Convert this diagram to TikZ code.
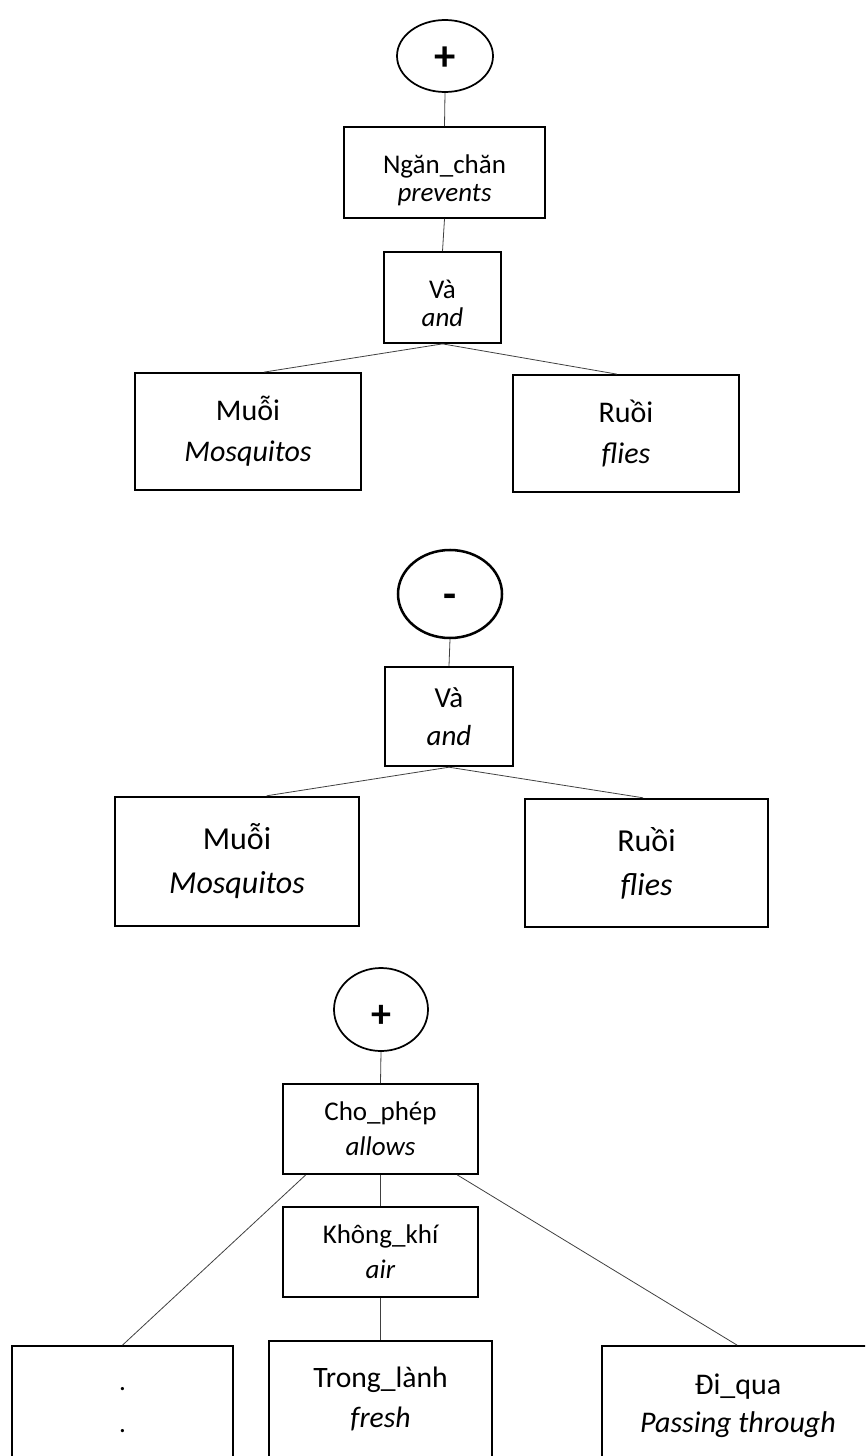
\documentclass[tikz,border=0pt]{standalone}
\usepackage{fontspec}
\setmainfont{Carlito}
\usetikzlibrary{shapes.geometric,calc}

\begin{document}
\begin{tikzpicture}[x=0.75pt,y=-0.75pt,
  box/.style={draw=black, line width=1.3pt, rectangle, inner sep=0pt, align=center},
  heavybox/.style={box, line width=1.8pt},
  sign/.style={draw=black, line width=1.3pt, ellipse, inner sep=0pt},
  glyph/.style={inner sep=0pt, font=\bfseries\fontsize{32}{32}\selectfont},
  link/.style={draw=black!75, line width=0.6pt},
  txt/.style={inner sep=0pt, align=center},
  fA/.style={font=\fontsize{20.25}{21}\selectfont},
  fB/.style={font=\fontsize{22.5}{30.75}\selectfont},
  fC/.style={font=\fontsize{21.75}{28.5}\selectfont},
  fD/.style={font=\fontsize{24}{33}\selectfont},
  fE/.style={font=\fontsize{20.25}{26.5}\selectfont},
  fF/.style={font=\fontsize{22.2}{30}\selectfont},
  fG/.style={font=\fontsize{22.5}{28.5}\selectfont},
]
\useasboundingbox (0,0) rectangle (865,1456);
\clip (0,0) rectangle (865,1456);

% ---- first tree: prevents (mosquitos and flies)
\node[sign, minimum width=72pt, minimum height=54pt] (c1) at (445,56) {};
\node[glyph] (c1sym) at ($(c1.center)+(0,2.5)$) {+};
\node[box, minimum width=150.75pt, minimum height=68.25pt] (ngan) at (444.5,172.5) {};
\node[txt, fA] (ngantxt) at ($(ngan.center)+(0,8)$) {Ngăn\_chăn\\\textit{prevents}};
\node[box, minimum width=87.75pt, minimum height=68.25pt] (va1) at (442.5,297.5) {};
\node[txt, fA] (va1txt) at ($(va1.center)+(0,6)$) {Và\\\textit{and}};
\node[box, fB, minimum width=169.5pt, minimum height=87.75pt] (muoi1) at (248,431.5)
  {Muỗi\\\textit{Mosquitos}};
\node[box, fB, minimum width=169.5pt, minimum height=87.75pt] (ruoi1) at (626,433.5)
  {Ruồi\\\textit{flies}};

\draw[link] (c1.south) -- (ngan.north);
\draw[link] (ngan.south) -- (va1.north);
\draw[link] (va1.south) -- ($(muoi1.north west)!0.57!(muoi1.north east)$);
\draw[link] (va1.south) -- ($(ruoi1.north west)!0.46!(ruoi1.north east)$);

% ---- second tree: negated (mosquitos and flies)
\node[sign, line width=1.9pt, minimum width=78pt, minimum height=66pt] (c2) at (450,594) {};
\node[glyph] (c2sym) at ($(c2.center)+(0,7)$) {-};
\node[heavybox, fC, minimum width=96pt, minimum height=74.25pt] (va2) at (449,716.5)
  {Và\\\textit{and}};
\node[heavybox, fD, minimum width=183pt, minimum height=96.75pt] (muoi2) at (237,861.5)
  {Muỗi\\\textit{Mosquitos}};
\node[heavybox, fD, minimum width=182.25pt, minimum height=96pt] (ruoi2) at (646.5,863)
  {Ruồi\\\textit{flies}};

\draw[link] (c2.south) -- (va2.north);
\draw[link] (va2.south) -- ($(muoi2.north west)!0.62!(muoi2.north east)$);
\draw[link] (va2.south) -- ($(ruoi2.north west)!0.486!(ruoi2.north east)$);

% ---- third tree: allows (fresh air) passing through
\node[sign, minimum width=70.5pt, minimum height=62.25pt] (c3) at (381,1009.5) {};
\node[glyph, font=\bfseries\fontsize{30}{30}\selectfont] (c3sym) at ($(c3.center)+(0,7)$) {+};
\node[box, fE, minimum width=146.25pt, minimum height=67.5pt] (cho) at (380.5,1129)
  {Cho\_phép\\\textit{allows}};
\node[box, fE, minimum width=146.25pt, minimum height=67.5pt] (khong) at (380.5,1252)
  {Không\_khí\\\textit{air}};
\node[box, font=\fontsize{20.25}{31.5}\selectfont, minimum width=165.75pt, minimum height=96pt]
  (dots) at (122.5,1410) {.\\.};
\node[box, minimum width=167.25pt, minimum height=104.25pt] (trong) at (380.5,1410.5) {};
\node[txt, fF] (trongtxt) at (380.5,1399) {Trong\_lành\\\textit{fresh}};
\node[box, minimum width=208.5pt, minimum height=100.5pt] (diqua) at (741,1413) {};
\node[txt, fG] (diquatxt) at (738,1405.5) {Đi\_qua\\\textit{Passing through}};

\draw[link] (c3.south) -- (cho.north);
\draw[link] (cho.south) -- (khong.north);
\draw[link] (khong.south) -- (trong.north);
\draw[link] ($(cho.south west)!0.12!(cho.south east)$) -- (dots.north);
\draw[link] ($(cho.south west)!0.89!(cho.south east)$) -- ($(diqua.north west)!0.486!(diqua.north east)$);
\end{tikzpicture}
\end{document}
